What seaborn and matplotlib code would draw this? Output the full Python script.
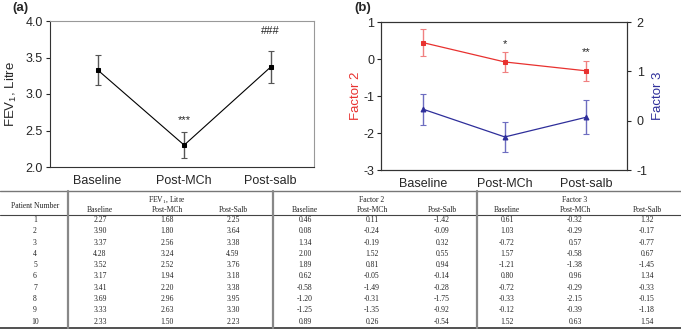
import matplotlib
matplotlib.use("Agg")
import matplotlib.pyplot as plt
import seaborn as sns
import pandas as pd

# --- chart data ---
conditions = ["Baseline", "Post-MCh", "Post-salb"]
fev_mean = [3.33, 2.30, 3.37]
fev_err = [0.20, 0.18, 0.22]
f2_mean = [0.44, -0.08, -0.32]
f2_err = [0.37, 0.27, 0.27]
f3_mean = [0.23, -0.33, 0.07]
f3_err = [0.31, 0.30, 0.34]

# --- table data ---
patients = [str(i) for i in range(1, 11)]
tbl_cols = ["Baseline", "Post-MCh", "Post-Salb"]
fev_tbl = [
    ["2.27", "1.68", "2.25"], ["3.90", "1.80", "3.64"], ["3.37", "2.56", "3.38"],
    ["4.28", "3.24", "4.59"], ["3.52", "2.52", "3.76"], ["3.17", "1.94", "3.18"],
    ["3.41", "2.20", "3.38"], ["3.69", "2.96", "3.95"], ["3.33", "2.63", "3.30"],
    ["2.33", "1.50", "2.23"],
]
f2_tbl = [
    ["0.46", "0.11", "-1.42"], ["0.08", "-0.24", "-0.09"], ["1.34", "-0.19", "0.32"],
    ["2.00", "1.52", "0.55"], ["1.89", "0.81", "0.94"], ["0.62", "-0.05", "-0.14"],
    ["-0.58", "-1.49", "-0.28"], ["-1.20", "-0.31", "-1.75"], ["-1.25", "-1.35", "-0.92"],
    ["0.89", "0.26", "-0.54"],
]
f3_tbl = [
    ["0.61", "-0.32", "1.32"], ["1.03", "-0.29", "-0.17"], ["-0.72", "0.57", "-0.77"],
    ["1.57", "-0.58", "0.67"], ["-1.21", "-1.38", "-1.45"], ["0.80", "0.96", "1.34"],
    ["-0.72", "-0.29", "-0.33"], ["-0.33", "-2.15", "-0.15"], ["-0.12", "-0.39", "-1.18"],
    ["1.52", "0.63", "1.54"],
]

RED = "#e8312f"
BLUE = "#2e2e9a"

sns.set_style("ticks")
plt.rcParams["font.family"] = ["Liberation Sans", "DejaVu Sans"]
plt.rcParams["mathtext.default"] = "regular"
plt.rcParams["axes.unicode_minus"] = False

W, H = 681, 331
fig = plt.figure(figsize=(W / 100, H / 100), dpi=100)

def box(l, t, r, b):
    return [l / W, 1 - b / H, (r - l) / W, (b - t) / H]

x = list(range(len(conditions)))
df = pd.DataFrame({"x": x, "fev": fev_mean, "f2": f2_mean, "f3": f3_mean})

# ---------- panel (a) ----------
ax1 = fig.add_axes(box(50, 21, 314, 167))
ax1.errorbar(x, fev_mean, yerr=fev_err, fmt="none", ecolor="#555555",
             elinewidth=1.0, capsize=2.5, capthick=0.8)
sns.lineplot(data=df, x="x", y="fev", ax=ax1, color="black", lw=0.8,
             marker="s", markersize=3.5, markeredgecolor="black")
ax1.set_xlim(-0.55, 2.5)
ax1.set_ylim(2.0, 4.0)
ax1.set_yticks([2.0, 2.5, 3.0, 3.5, 4.0])
ax1.set_xticks(x)
ax1.set_xticklabels(conditions)
ax1.set_xlabel("")
ax1.set_ylabel("FEV$_1$, Litre", fontsize=9.5, labelpad=5)
ax1.tick_params(axis="x", length=0, labelsize=9, pad=6)
ax1.tick_params(axis="y", length=3, labelsize=9, pad=2)
for s in ["top", "right"]:
    ax1.spines[s].set_visible(True)
    ax1.spines[s].set_color("#999999")
for s in ["left", "bottom"]:
    ax1.spines[s].set_color("#333333")
ax1.text(1, 2.58, "***", ha="center", va="bottom", fontsize=8)
ax1.text(2, 3.80, "###", ha="center", va="bottom", fontsize=8)
fig.text(12 / W, 1 - 8 / H, "(a)", fontsize=9.5, fontweight="bold", va="center")

# ---------- panel (b) ----------
ax2 = fig.add_axes(box(381, 22, 627, 170))
ax3 = ax2.twinx()
ax2.errorbar(x, f2_mean, yerr=f2_err, fmt="none", ecolor="#f08080",
             elinewidth=1.0, capsize=2.5, capthick=0.8)
sns.lineplot(data=df, x="x", y="f2", ax=ax2, color=RED, lw=0.9,
             marker="s", markersize=3.5, markeredgecolor=RED)
ax3.errorbar(x, f3_mean, yerr=f3_err, fmt="none", ecolor="#6d6dc0",
             elinewidth=1.0, capsize=2.5, capthick=0.8)
sns.lineplot(data=df, x="x", y="f3", ax=ax3, color=BLUE, lw=0.9,
             marker="^", markersize=3.5, markeredgecolor=BLUE)
ax2.set_xlim(-0.52, 2.5)
ax2.set_ylim(-3, 1)
ax3.set_ylim(-1, 2)
ax2.set_yticks([-3, -2, -1, 0, 1])
ax3.set_yticks([-1, 0, 1, 2])
ax2.set_xticks(x)
ax2.set_xticklabels(conditions)
ax2.set_xlabel("")
ax2.set_ylabel("Factor 2", color=RED, fontsize=9.5, labelpad=1)
ax3.set_ylabel("Factor 3", color=BLUE, fontsize=9.5, labelpad=3)
ax2.tick_params(axis="x", length=0, labelsize=9, pad=6)
ax2.tick_params(axis="y", length=3, labelsize=9, pad=2)
ax3.tick_params(axis="y", length=3, labelsize=9, pad=4)
for a in (ax2, ax3):
    for s in a.spines.values():
        s.set_visible(True)
        s.set_color("#333333")
ax2.text(1, 0.28, "*", ha="center", va="bottom", fontsize=8)
ax2.text(2, 0.04, "**", ha="center", va="bottom", fontsize=8)
fig.text(354 / W, 1 - 8 / H, "(b)", fontsize=9.5, fontweight="bold", va="center")

# ---------- table ----------
axt = fig.add_axes([0, 0, 1, 1], zorder=-1)
axt.set_xlim(0, W)
axt.set_ylim(H, 0)
axt.axis("off")
tfont = dict(family=["Liberation Serif", "DejaVu Serif"], fontsize=5.5,
             ha="center", va="center", color="#222222")

axt.plot([0, W], [191, 191], color="#777777", lw=1.0)
axt.plot([0, W], [214.5, 214.5], color="#444444", lw=0.8)
axt.plot([0, W], [327.5, 327.5], color="#333333", lw=1.2)
for xv in (68, 273, 477):
    axt.plot([xv, xv], [191, 327.5], color="#888888", lw=1.6)

axt.text(35, 205.5, "Patient Number", **tfont)
group_x = [(100, 167, 233), (305, 372, 442), (507, 575, 647)]
group_names = ["FEV$_1$, Litre", "Factor 2", "Factor 3"]
tables = [fev_tbl, f2_tbl, f3_tbl]
for gx, gname, tbl in zip(group_x, group_names, tables):
    axt.text(gx[1], 200, gname, **tfont)
    for cx, cname in zip(gx, tbl_cols):
        axt.text(cx, 210, cname, **tfont)
    for i, row in enumerate(tbl):
        for cx, val in zip(gx, row):
            axt.text(cx, 220 + 11.3 * i, val, **tfont)
for i, p in enumerate(patients):
    axt.text(35, 220 + 11.3 * i, p, **tfont)

fig.savefig("out.png", dpi=100)
